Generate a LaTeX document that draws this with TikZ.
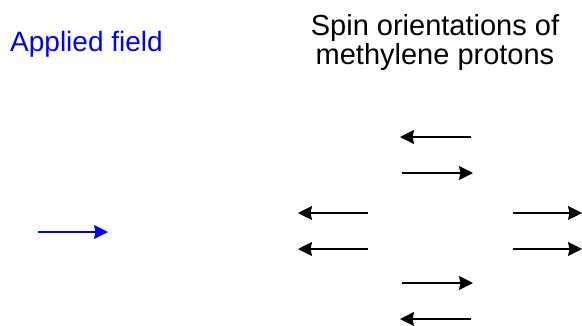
\documentclass[tikz,border=0pt]{standalone}
\usepackage{fontspec}
\setmainfont{Liberation Sans}
\usetikzlibrary{arrows.meta}
\definecolor{fieldblue}{RGB}{0,0,255}
\begin{document}
\begin{tikzpicture}[x=1bp,y=-1bp,
  spin/.style={line width=1.4bp,-{Stealth[length=14bp,width=14bp,inset=1.5bp]}},
  field/.style={spin,draw=fieldblue,fill=fieldblue},
  label/.style={inner sep=0pt,font=\fontsize{29bp}{29bp}\selectfont}]
\useasboundingbox (0,0) rectangle (582,325);
% titles
\node[label,anchor=base west,text=fieldblue,font=\fontsize{28bp}{29bp}\selectfont] (applied) at (10,51.5) {Applied field};
\node[label,anchor=base,align=center] (spins) at (435,64.5) {Spin orientations of\\methylene protons};
% applied field direction
\coordinate (f0) at (38,232);
\coordinate (f1) at (108,232);
\draw[field] (f0) -- (f1);
% centre column, pairs of antiparallel spins
\coordinate (a0) at (471,137); \coordinate (a1) at (400,137);
\coordinate (b0) at (402,173); \coordinate (b1) at (473,173);
\coordinate (e0) at (402,283); \coordinate (e1) at (473,283);
\coordinate (g0) at (471,319); \coordinate (g1) at (400,319);
\draw[spin] (a0) -- (a1);
\draw[spin] (b0) -- (b1);
\draw[spin] (e0) -- (e1);
\draw[spin] (g0) -- (g1);
% left column, both opposed to the field
\coordinate (c0) at (368,213); \coordinate (c1) at (298,213);
\coordinate (d0) at (368,249); \coordinate (d1) at (298,249);
\draw[spin] (c0) -- (c1);
\draw[spin] (d0) -- (d1);
% right column, both aligned with the field
\coordinate (r0) at (513,213); \coordinate (r1) at (582,213);
\coordinate (s0) at (513,249); \coordinate (s1) at (582,249);
\draw[spin] (r0) -- (r1);
\draw[spin] (s0) -- (s1);
\end{tikzpicture}
\end{document}
